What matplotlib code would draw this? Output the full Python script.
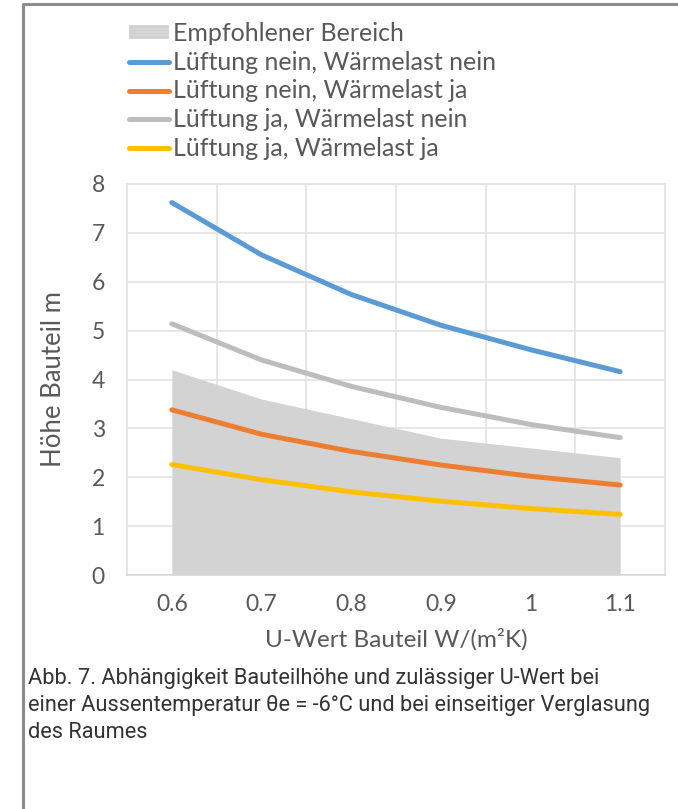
import matplotlib.pyplot as plt
from matplotlib.lines import Line2D
from matplotlib.patches import Patch

# data
u_values = ["0.6", "0.7", "0.8", "0.9", "1", "1.1"]
empfohlen = [4.2, 3.6, 3.2, 2.8, 2.6, 2.4]
lueft_nein_waerme_nein = [7.62, 6.55, 5.74, 5.11, 4.61, 4.16]
lueft_nein_waerme_ja = [3.38, 2.88, 2.53, 2.25, 2.02, 1.84]
lueft_ja_waerme_nein = [5.14, 4.40, 3.86, 3.43, 3.08, 2.81]
lueft_ja_waerme_ja = [2.26, 1.95, 1.70, 1.51, 1.36, 1.24]

series = [
    ("Lüftung nein, Wärmelast nein", lueft_nein_waerme_nein, "#5B9BD5"),
    ("Lüftung nein, Wärmelast ja", lueft_nein_waerme_ja, "#ED7D31"),
    ("Lüftung ja, Wärmelast nein", lueft_ja_waerme_nein, "#BDBDBD"),
    ("Lüftung ja, Wärmelast ja", lueft_ja_waerme_ja, "#FFC000"),
]

plt.rcParams['font.family'] = ['Lato', 'DejaVu Sans']
text_col = "#595959"

fig = plt.figure(figsize=(6.78, 8.09), dpi=100)
ax = fig.add_axes([127 / 678, 1 - 575 / 809, 538 / 678, 391 / 809])

x = list(range(len(u_values)))
ax.fill_between(x, 0, empfohlen, color="#D3D3D3", lw=0, zorder=1)
for name, vals, col in series:
    ax.plot(x, vals, color=col, lw=3.6, solid_capstyle="round", zorder=3)

ax.set_xlim(-0.5, len(u_values) - 0.5)
ax.set_ylim(0, 8)
ax.set_yticks(range(0, 9))
ax.set_xticks(x)
ax.set_xticklabels(u_values)
ax.set_xticks([i - 0.5 for i in range(len(u_values) + 1)], minor=True)
ax.grid(True, axis="y", color="#E3E3E3", lw=1.2, zorder=0)
ax.grid(True, axis="x", which="minor", color="#E3E3E3", lw=1.2, zorder=0)
ax.tick_params(axis="both", which="both", length=0, labelsize=16.5, colors=text_col, pad=14)
ax.tick_params(axis="y", pad=16)
for s in ax.spines.values():
    s.set_color("#E3E3E3")
    s.set_linewidth(1.2)
ax.spines["bottom"].set_color("#D9D9D9")
ax.set_axisbelow(True)

ax.set_ylabel("Höhe Bauteil m", fontsize=18.5, color=text_col)
ax.yaxis.set_label_coords(-0.114, 0.5)
ax.set_xlabel("U-Wert Bauteil W/(m²K)", fontsize=17.5, color=text_col, labelpad=9)

handles = [Patch(facecolor="#D3D3D3", edgecolor="none")]
labels = ["Empfohlener Bereich"]
for name, vals, col in series:
    handles.append(Line2D([], [], color=col, lw=3.6, solid_capstyle="round"))
    labels.append(name)
fig.legend(handles, labels, loc="upper left", bbox_to_anchor=(129 / 678, 1 - 22 / 809),
           frameon=False, fontsize=18, labelcolor=text_col, handlelength=1.6,
           handleheight=0.5, handletextpad=0.15, labelspacing=0.23,
           borderaxespad=0, borderpad=0)

caption = ("Abb. 7. Abhängigkeit Bauteilhöhe und zulässiger U-Wert bei\n"
           "einer Aussentemperatur θe = -6°C und bei einseitiger Verglasung\n"
           "des Raumes")
fig.text(28 / 678, 1 - 668 / 809, caption, ha="left", va="top", fontsize=15.7,
         color="#333333", linespacing=1.38,
         family=["Roboto", "DejaVu Sans"])

# frame of the figure (left and top edge)
fig.add_artist(Line2D([23 / 678, 23 / 678, 1.0], [0, 1 - 4 / 809, 1 - 4 / 809],
                      transform=fig.transFigure, color="#8C8C8C", lw=2.2))

fig.savefig("out.png", dpi=100)
